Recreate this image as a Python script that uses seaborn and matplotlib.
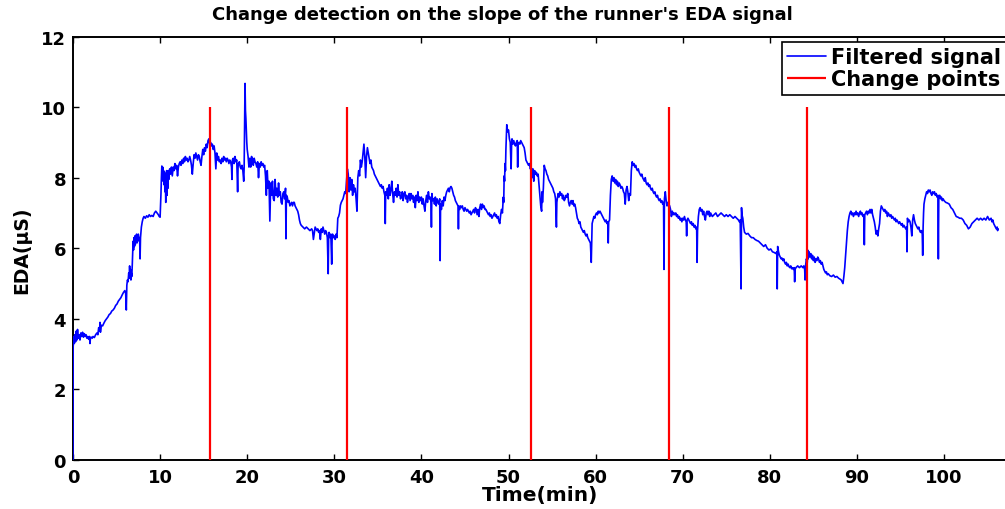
import numpy as np
import pandas as pd
import matplotlib
matplotlib.use("Agg")
import matplotlib.pyplot as plt
import seaborn as sns

# ---- data (time in minutes, EDA in microsiemens) ----
time_min = [
    0.0, 0.02, 0.08, 0.15, 0.22, 0.3, 0.37, 0.45, 0.52, 0.6,
    0.7, 0.8, 0.9, 1.0, 1.1, 1.2, 1.3, 1.4, 1.5, 1.6,
    1.7, 1.8, 1.9, 1.95, 2.0, 2.1, 2.2, 2.3, 2.45, 2.6,
    2.75, 2.85, 2.95, 3.05, 3.1, 3.15, 3.25, 3.4, 3.55, 3.7,
    3.85, 4.0, 4.15, 4.3, 4.45, 4.6, 4.75, 4.9, 5.05, 5.2,
    5.35, 5.5, 5.65, 5.8, 5.95, 6.05, 6.12, 6.18, 6.25, 6.32,
    6.4, 6.45, 6.5, 6.55, 6.6, 6.65, 6.7, 6.75, 6.8, 6.85,
    6.9, 6.95, 7.0, 7.05, 7.1, 7.15, 7.2, 7.3, 7.35, 7.4,
    7.5, 7.6, 7.65, 7.7, 7.75, 7.85, 7.95, 8.05, 8.15, 8.3,
    8.45, 8.6, 8.75, 8.9, 9.05, 9.2, 9.35, 9.5, 9.65, 9.8,
    9.9, 10.0, 10.05, 10.1, 10.15, 10.2, 10.25, 10.3, 10.35, 10.4,
    10.45, 10.5, 10.55, 10.6, 10.65, 10.7, 10.75, 10.8, 10.85, 10.9,
    10.95, 11.0, 11.1, 11.2, 11.3, 11.4, 11.5, 11.6, 11.7, 11.8,
    11.9, 12.0, 12.1, 12.2, 12.3, 12.4, 12.5, 12.6, 12.7, 12.8,
    12.9, 13.0, 13.1, 13.2, 13.3, 13.4, 13.5, 13.6, 13.7, 13.8,
    13.9, 14.0, 14.1, 14.2, 14.3, 14.4, 14.5, 14.6, 14.7, 14.8,
    14.9, 15.0, 15.1, 15.2, 15.3, 15.4, 15.5, 15.6, 15.7, 15.8,
    15.9, 16.0, 16.1, 16.2, 16.3, 16.4, 16.5, 16.6, 16.7, 16.8,
    16.9, 17.0, 17.1, 17.2, 17.3, 17.4, 17.5, 17.6, 17.7, 17.8,
    17.9, 18.0, 18.1, 18.2, 18.25, 18.3, 18.4, 18.5, 18.6, 18.7,
    18.8, 18.9, 18.95, 19.0, 19.1, 19.2, 19.3, 19.4, 19.5, 19.6,
    19.65, 19.7, 19.75, 19.8, 19.85, 19.9, 19.95, 20.0, 20.1, 20.2,
    20.3, 20.4, 20.5, 20.6, 20.7, 20.8, 20.9, 21.0, 21.1, 21.2,
    21.3, 21.4, 21.5, 21.6, 21.7, 21.8, 21.9, 22.0, 22.1, 22.2,
    22.3, 22.4, 22.5, 22.6, 22.7, 22.8, 22.9, 23.0, 23.1, 23.2,
    23.3, 23.4, 23.5, 23.6, 23.7, 23.8, 23.9, 24.0, 24.1, 24.2,
    24.3, 24.4, 24.45, 24.5, 24.6, 24.7, 24.8, 24.9, 25.0, 25.1,
    25.2, 25.3, 25.4, 25.5, 25.6, 25.7, 25.8, 25.9, 26.0, 26.1,
    26.2, 26.4, 26.6, 26.8, 27.0, 27.2, 27.4, 27.5, 27.6, 27.8,
    28.0, 28.1, 28.2, 28.3, 28.4, 28.5, 28.6, 28.7, 28.8, 28.9,
    29.0, 29.1, 29.2, 29.3, 29.35, 29.4, 29.5, 29.6, 29.7, 29.75,
    29.8, 29.9, 30.0, 30.1, 30.2, 30.3, 30.4, 30.5, 30.6, 30.7,
    30.8, 30.9, 31.0, 31.1, 31.2, 31.3, 31.4, 31.5, 31.6, 31.7,
    31.8, 31.9, 32.0, 32.1, 32.2, 32.3, 32.4, 32.5, 32.6, 32.7,
    32.8, 32.9, 33.0, 33.1, 33.2, 33.3, 33.4, 33.5, 33.6, 33.7,
    33.8, 33.9, 34.0, 34.1, 34.2, 34.3, 34.4, 34.5, 34.6, 34.7,
    34.8, 34.9, 35.0, 35.1, 35.2, 35.3, 35.4, 35.5, 35.6, 35.7,
    35.8, 35.85, 35.9, 36.0, 36.1, 36.2, 36.3, 36.4, 36.5, 36.6,
    36.7, 36.8, 36.9, 37.0, 37.1, 37.2, 37.3, 37.4, 37.5, 37.6,
    37.7, 37.8, 37.9, 38.0, 38.1, 38.2, 38.3, 38.4, 38.5, 38.6,
    38.7, 38.8, 38.9, 39.0, 39.1, 39.2, 39.3, 39.4, 39.5, 39.6,
    39.7, 39.8, 39.9, 40.0, 40.1, 40.2, 40.3, 40.4, 40.5, 40.6,
    40.7, 40.8, 40.9, 41.0, 41.1, 41.15, 41.2, 41.3, 41.4, 41.5,
    41.6, 41.7, 41.8, 41.9, 42.0, 42.1, 42.15, 42.2, 42.3, 42.4,
    42.5, 42.6, 42.7, 42.8, 42.9, 43.0, 43.1, 43.2, 43.3, 43.4,
    43.5, 43.6, 43.7, 43.8, 43.9, 44.0, 44.1, 44.2, 44.25, 44.3,
    44.4, 44.5, 44.6, 44.7, 44.8, 44.9, 45.0, 45.1, 45.2, 45.3,
    45.4, 45.5, 45.6, 45.7, 45.8, 45.9, 46.0, 46.1, 46.2, 46.3,
    46.4, 46.5, 46.6, 46.7, 46.8, 46.9, 47.0, 47.1, 47.2, 47.3,
    47.4, 47.5, 47.6, 47.7, 47.8, 47.9, 48.0, 48.1, 48.2, 48.3,
    48.4, 48.5, 48.6, 48.7, 48.8, 48.9, 49.0, 49.1, 49.2, 49.3,
    49.4, 49.45, 49.5, 49.55, 49.6, 49.65, 49.7, 49.75, 49.8, 49.9,
    50.0, 50.1, 50.2, 50.3, 50.35, 50.4, 50.5, 50.6, 50.7, 50.8,
    50.9, 51.0, 51.05, 51.1, 51.2, 51.3, 51.4, 51.5, 51.6, 51.7,
    51.8, 51.9, 52.0, 52.1, 52.2, 52.3, 52.4, 52.5, 52.6, 52.7,
    52.8, 52.9, 53.0, 53.1, 53.2, 53.3, 53.4, 53.5, 53.6, 53.7,
    53.8, 53.85, 53.9, 54.0, 54.1, 54.2, 54.3, 54.4, 54.5, 54.6,
    54.7, 54.8, 54.9, 55.0, 55.1, 55.2, 55.3, 55.4, 55.5, 55.55,
    55.6, 55.7, 55.8, 55.9, 56.0, 56.1, 56.2, 56.3, 56.4, 56.5,
    56.6, 56.7, 56.8, 56.9, 57.0, 57.1, 57.2, 57.3, 57.4, 57.5,
    57.6, 57.7, 57.8, 57.9, 58.0, 58.1, 58.2, 58.3, 58.4, 58.5,
    58.6, 58.7, 58.8, 58.9, 59.0, 59.1, 59.2, 59.3, 59.4, 59.5,
    59.6, 59.7, 59.8, 59.9, 60.0, 60.1, 60.2, 60.3, 60.4, 60.5,
    60.6, 60.7, 60.8, 60.9, 61.0, 61.1, 61.2, 61.3, 61.4, 61.45,
    61.5, 61.6, 61.7, 61.8, 61.9, 62.0, 62.1, 62.2, 62.3, 62.4,
    62.5, 62.6, 62.7, 62.8, 62.9, 63.0, 63.1, 63.2, 63.3, 63.4,
    63.5, 63.6, 63.7, 63.8, 63.9, 64.0, 64.1, 64.2, 64.3, 64.4,
    64.5, 64.6, 64.7, 64.8, 64.9, 65.0, 65.1, 65.2, 65.3, 65.4,
    65.5, 65.6, 65.7, 65.8, 65.9, 66.0, 66.1, 66.2, 66.3, 66.4,
    66.5, 66.6, 66.7, 66.8, 66.9, 67.0, 67.1, 67.2, 67.3, 67.4,
    67.5, 67.6, 67.7, 67.8, 67.85, 67.9, 68.0, 68.1, 68.2, 68.3,
    68.4, 68.5, 68.6, 68.7, 68.8, 68.9, 69.0, 69.1, 69.2, 69.3,
    69.4, 69.5, 69.6, 69.7, 69.8, 69.9, 70.0, 70.1, 70.2, 70.3,
    70.4, 70.45, 70.5, 70.6, 70.7, 70.8, 70.9, 71.0, 71.1, 71.2,
    71.3, 71.4, 71.5, 71.6, 71.65, 71.7, 71.8, 71.9, 72.0, 72.1,
    72.2, 72.3, 72.4, 72.5, 72.6, 72.7, 72.8, 72.9, 73.0, 73.1,
    73.2, 73.4, 73.6, 73.8, 74.0, 74.2, 74.4, 74.6, 74.8, 75.0,
    75.2, 75.4, 75.6, 75.8, 76.0, 76.2, 76.4, 76.5, 76.6, 76.7,
    76.75, 76.8, 76.9, 77.0, 77.1, 77.3, 77.5, 77.7, 77.9, 78.1,
    78.3, 78.5, 78.7, 78.9, 79.1, 79.3, 79.5, 79.7, 79.9, 80.1,
    80.3, 80.5, 80.7, 80.8, 80.85, 80.9, 81.0, 81.1, 81.2, 81.3,
    81.4, 81.5, 81.6, 81.7, 81.8, 81.9, 82.0, 82.1, 82.2, 82.3,
    82.4, 82.5, 82.6, 82.7, 82.8, 82.85, 82.9, 83.0, 83.2, 83.4,
    83.6, 83.8, 83.9, 84.0, 84.05, 84.1, 84.2, 84.3, 84.35, 84.4,
    84.5, 84.6, 84.7, 84.8, 84.9, 85.0, 85.1, 85.2, 85.3, 85.4,
    85.5, 85.6, 85.7, 85.8, 85.9, 86.0, 86.1, 86.2, 86.3, 86.4,
    86.5, 86.6, 86.7, 86.9, 87.1, 87.3, 87.5, 87.7, 87.9, 88.1,
    88.2, 88.3, 88.4, 88.5, 88.6, 88.7, 88.8, 88.9, 89.0, 89.1,
    89.2, 89.3, 89.4, 89.5, 89.6, 89.7, 89.8, 89.9, 90.0, 90.1,
    90.2, 90.3, 90.4, 90.5, 90.6, 90.7, 90.8, 90.85, 90.9, 91.0,
    91.1, 91.2, 91.3, 91.4, 91.5, 91.6, 91.7, 91.8, 91.9, 92.0,
    92.1, 92.2, 92.3, 92.4, 92.5, 92.6, 92.7, 92.8, 92.9, 93.0,
    93.1, 93.2, 93.3, 93.4, 93.5, 93.6, 93.7, 93.8, 93.9, 94.0,
    94.1, 94.2, 94.3, 94.4, 94.5, 94.6, 94.7, 94.8, 94.9, 95.0,
    95.1, 95.2, 95.3, 95.4, 95.5, 95.6, 95.7, 95.75, 95.8, 95.9,
    96.0, 96.1, 96.2, 96.3, 96.4, 96.5, 96.6, 96.7, 96.8, 96.9,
    97.0, 97.1, 97.2, 97.3, 97.4, 97.5, 97.55, 97.6, 97.65, 97.7,
    97.8, 97.9, 98.0, 98.1, 98.2, 98.3, 98.4, 98.5, 98.6, 98.7,
    98.8, 98.9, 99.0, 99.1, 99.2, 99.3, 99.35, 99.4, 99.5, 99.6,
    99.7, 99.8, 99.9, 100.0, 100.2, 100.4, 100.6, 100.8, 101.0, 101.2,
    101.4, 101.6, 101.8, 102.0, 102.2, 102.4, 102.6, 102.8, 103.0, 103.2,
    103.4, 103.6, 103.8, 104.0, 104.2, 104.4, 104.6, 104.8, 105.0, 105.2,
    105.4, 105.5, 105.6, 105.7, 105.8, 105.9, 106.0, 106.1, 106.15, 106.2,
]
eda_us = [
    0.0, 3.2, 3.5, 3.3, 3.55, 3.35, 3.65, 3.4, 3.7, 3.45,
    3.55, 3.4, 3.6, 3.5, 3.62, 3.48, 3.58, 3.5, 3.55, 3.45,
    3.5, 3.42, 3.5, 3.3, 3.45, 3.48, 3.45, 3.5, 3.47, 3.55,
    3.6, 3.55, 3.75, 3.65, 3.9, 3.62, 3.82, 3.8, 3.88, 3.95,
    4.0, 4.05, 4.12, 4.15, 4.22, 4.25, 4.3, 4.38, 4.42, 4.5,
    4.55, 4.6, 4.68, 4.75, 4.8, 4.72, 4.25, 4.95, 5.1, 5.05,
    5.3, 5.15, 5.5, 5.2, 5.4, 5.1, 5.3, 5.2, 5.5, 5.9,
    6.2, 5.95, 6.3, 6.05, 6.35, 6.1, 6.3, 6.4, 6.15, 6.35,
    6.4, 6.2, 6.3, 5.7, 6.3, 6.6, 6.75, 6.85, 6.9, 6.85,
    6.92, 6.88, 6.95, 6.9, 6.93, 6.9, 7.0, 7.05, 7.0, 6.95,
    6.9, 6.88, 7.2, 7.55, 8.0, 8.33, 8.0, 8.3, 7.9, 8.2,
    7.8, 8.15, 7.6, 8.0, 7.3, 7.9, 8.2, 7.5, 8.1, 7.7,
    8.2, 7.95, 8.25, 8.1, 8.3, 8.05, 8.3, 8.2, 8.4, 8.25,
    8.35, 8.05, 8.3, 8.4, 8.45, 8.35, 8.5, 8.4, 8.55, 8.45,
    8.6, 8.5, 8.55, 8.45, 8.5, 8.6, 8.5, 8.35, 8.1, 8.4,
    8.65, 8.55, 8.7, 8.6, 8.5, 8.65, 8.6, 8.45, 8.35, 8.6,
    8.8, 8.65, 8.85, 8.75, 8.95, 8.85, 9.05, 9.1, 8.95, 9.0,
    8.9, 8.95, 8.8, 8.9, 8.7, 8.25, 8.7, 8.5, 8.6, 8.45,
    8.5, 8.4, 8.55, 8.45, 8.6, 8.5, 8.55, 8.45, 8.55, 8.5,
    8.4, 8.5, 8.45, 8.3, 7.95, 8.5, 8.55, 8.4, 8.6, 8.45,
    8.5, 7.6, 8.3, 8.4, 8.45, 8.3, 8.25, 8.35, 8.2, 7.9,
    8.3, 9.5, 10.67, 9.9, 9.67, 9.3, 9.0, 8.8, 8.6, 8.3,
    8.55, 8.3, 8.6, 8.5, 8.35, 8.55, 8.45, 8.4, 8.3, 8.45,
    8.0, 8.4, 8.3, 8.45, 8.35, 8.4, 8.3, 8.35, 8.05, 7.5,
    8.2, 7.7, 7.9, 6.77, 7.85, 7.5, 7.9, 7.4, 7.35, 7.95,
    7.5, 7.7, 7.45, 7.85, 7.5, 7.6, 7.3, 7.25, 7.55, 7.6,
    7.4, 7.7, 6.27, 7.5, 7.45, 7.3, 7.35, 7.2, 7.25, 7.3,
    7.2, 7.3, 7.3, 7.2, 7.15, 7.1, 7.05, 6.95, 6.8, 6.7,
    6.65, 6.6, 6.55, 6.6, 6.55, 6.5, 6.55, 6.5, 6.25, 6.6,
    6.5, 6.55, 6.45, 6.5, 6.25, 6.55, 6.45, 6.6, 6.5, 6.4,
    6.5, 6.45, 6.3, 5.28, 6.35, 6.45, 6.3, 6.4, 5.55, 6.3,
    6.4, 6.3, 6.35, 6.25, 6.4, 6.3, 6.85, 6.9, 7.0, 7.22,
    7.3, 7.35, 7.4, 7.5, 7.6, 7.55, 7.9, 8.25, 8.1, 7.6,
    8.0, 7.65, 7.95, 7.5, 7.8, 7.6, 7.7, 7.4, 7.05, 8.0,
    8.2, 8.05, 8.5, 8.3, 8.45, 8.7, 8.95, 8.6, 8.0, 8.6,
    8.85, 8.7, 8.55, 8.4, 8.5, 8.3, 8.25, 8.2, 8.1, 8.05,
    8.0, 7.95, 7.9, 7.85, 7.8, 7.75, 7.8, 7.7, 7.75, 7.6,
    7.5, 6.7, 7.6, 7.5, 7.7, 7.4, 7.8, 7.5, 7.65, 7.9,
    7.55, 7.3, 7.6, 7.5, 7.7, 7.45, 7.8, 7.5, 7.6, 7.4,
    7.45, 7.6, 7.35, 7.55, 7.6, 7.4, 7.5, 7.3, 7.45, 7.55,
    7.35, 7.55, 7.4, 7.5, 7.3, 7.45, 7.15, 7.5, 7.35, 7.6,
    7.3, 7.45, 7.35, 7.45, 7.25, 7.4, 7.2, 7.05, 7.35, 7.5,
    7.3, 7.6, 7.4, 7.45, 7.3, 6.6, 7.55, 7.35, 7.4, 7.25,
    7.45, 7.2, 7.4, 7.3, 7.25, 7.4, 5.65, 7.25, 7.1, 7.35,
    7.2, 7.45, 7.35, 7.5, 7.6, 7.65, 7.7, 7.6, 7.72, 7.75,
    7.7, 7.6, 7.5, 7.45, 7.35, 7.3, 7.25, 7.2, 6.55, 7.2,
    7.1, 7.2, 7.15, 7.2, 7.1, 7.05, 7.15, 7.1, 7.05, 7.1,
    7.05, 7.0, 7.05, 6.95, 7.0, 7.05, 7.1, 7.0, 7.15, 7.1,
    6.95, 7.1, 6.9, 7.15, 7.25, 7.1, 7.25, 7.15, 7.2, 7.1,
    7.1, 7.05, 7.0, 6.95, 7.0, 6.9, 6.95, 6.85, 6.9, 6.95,
    7.0, 6.9, 6.95, 6.85, 6.9, 6.75, 6.7, 6.95, 7.1, 7.0,
    7.45, 7.3, 8.05, 7.9, 8.4, 8.2, 8.8, 9.2, 9.5, 9.3,
    9.35, 9.1, 9.0, 8.25, 8.9, 9.1, 8.95, 9.05, 8.95, 8.9,
    9.0, 9.05, 8.3, 8.95, 9.0, 8.95, 9.05, 9.0, 8.95, 8.9,
    8.85, 8.7, 8.5, 8.45, 8.4, 8.35, 8.4, 8.25, 8.3, 8.0,
    8.25, 7.9, 8.2, 8.1, 8.15, 8.05, 8.1, 7.8, 7.5, 7.2,
    7.05, 7.6, 7.3, 7.7, 8.35, 8.25, 8.2, 8.1, 8.05, 7.95,
    7.9, 7.85, 7.8, 7.75, 7.7, 7.6, 7.55, 7.4, 6.6, 7.3,
    7.4, 7.55, 7.45, 7.6, 7.5, 7.55, 7.4, 7.5, 7.35, 7.4,
    7.5, 7.45, 7.55, 7.3, 7.2, 7.3, 7.35, 7.25, 7.35, 7.2,
    7.25, 7.15, 7.0, 6.85, 6.8, 6.7, 6.75, 6.6, 6.55, 6.5,
    6.45, 6.5, 6.4, 6.35, 6.4, 6.3, 6.25, 6.2, 6.15, 5.6,
    6.7, 6.8, 6.9, 6.85, 6.95, 7.0, 6.95, 7.05, 7.0, 7.05,
    7.0, 6.95, 6.9, 6.85, 6.8, 6.75, 6.8, 6.7, 6.75, 6.15,
    6.75, 6.8, 7.5, 7.95, 8.05, 7.9, 8.0, 7.85, 7.95, 7.8,
    7.9, 7.75, 7.85, 7.8, 7.7, 7.75, 7.7, 7.6, 7.55, 7.25,
    7.65, 7.75, 7.6, 7.35, 7.55, 7.5, 8.2, 8.45, 8.35, 8.4,
    8.3, 8.35, 8.25, 8.2, 8.25, 8.15, 8.1, 8.05, 8.1, 8.0,
    7.95, 7.9, 8.0, 7.85, 7.8, 7.85, 7.75, 7.8, 7.7, 7.65,
    7.7, 7.6, 7.55, 7.6, 7.5, 7.45, 7.5, 7.4, 7.35, 7.4,
    7.3, 7.35, 7.25, 7.3, 5.4, 7.4, 7.6, 7.35, 7.2, 7.3,
    7.25, 7.2, 7.1, 6.9, 7.05, 6.95, 7.0, 6.95, 7.0, 6.9,
    6.95, 6.85, 6.9, 6.8, 6.85, 6.75, 6.85, 6.8, 6.9, 6.8,
    6.75, 6.35, 6.8, 6.85, 6.8, 6.75, 6.7, 6.75, 6.65, 6.7,
    6.6, 6.65, 6.55, 6.6, 5.6, 6.5, 6.9, 7.1, 7.15, 7.05,
    7.1, 6.95, 7.05, 6.9, 6.8, 7.0, 7.05, 6.95, 7.05, 6.9,
    7.0, 6.9, 6.95, 7.0, 6.9, 6.95, 7.0, 6.95, 6.9, 6.95,
    6.9, 6.95, 6.9, 6.85, 6.9, 6.85, 6.8, 6.75, 6.8, 4.85,
    7.15, 6.95, 6.85, 6.6, 6.45, 6.4, 6.42, 6.35, 6.3, 6.3,
    6.25, 6.22, 6.2, 6.15, 6.1, 6.05, 6.1, 6.0, 5.95, 5.98,
    5.9, 5.88, 5.85, 5.9, 4.85, 6.05, 5.9, 5.8, 5.75, 5.7,
    5.72, 5.65, 5.7, 5.6, 5.55, 5.6, 5.5, 5.55, 5.48, 5.45,
    5.5, 5.42, 5.45, 5.4, 5.45, 5.05, 5.4, 5.45, 5.5, 5.45,
    5.5, 5.45, 5.5, 5.4, 5.1, 5.5, 5.7, 5.6, 5.95, 5.7,
    5.9, 5.75, 5.85, 5.7, 5.8, 5.65, 5.75, 5.6, 5.7, 5.65,
    5.75, 5.7, 5.6, 5.65, 5.55, 5.6, 5.5, 5.4, 5.35, 5.3,
    5.33, 5.25, 5.28, 5.22, 5.2, 5.24, 5.18, 5.2, 5.15, 5.12,
    5.1, 5.05, 5.0, 5.2, 5.45, 5.8, 6.15, 6.5, 6.75, 6.9,
    7.0, 7.05, 6.95, 7.0, 6.9, 7.0, 6.95, 7.05, 6.95, 7.0,
    6.9, 7.0, 7.05, 6.95, 7.0, 6.9, 6.95, 6.1, 6.95, 7.0,
    7.05, 6.95, 7.05, 7.0, 7.1, 7.0, 7.1, 6.95, 6.85, 6.75,
    6.6, 6.4, 6.5, 6.35, 6.55, 6.7, 7.05, 7.2, 7.15, 7.1,
    7.05, 7.1, 7.0, 7.05, 6.9, 7.0, 6.95, 6.9, 6.95, 6.85,
    6.9, 6.85, 6.8, 6.85, 6.75, 6.8, 6.75, 6.7, 6.75, 6.7,
    6.65, 6.7, 6.6, 6.65, 6.6, 6.55, 6.6, 5.9, 6.85, 6.75,
    6.8, 6.75, 6.6, 6.35, 6.8, 6.95, 6.8, 6.7, 6.65, 6.6,
    6.55, 6.6, 6.5, 6.45, 6.5, 6.4, 5.8, 6.6, 7.0, 7.25,
    7.4, 7.5, 7.6, 7.55, 7.65, 7.6, 7.65, 7.55, 7.5, 7.6,
    7.55, 7.6, 7.5, 7.55, 7.45, 7.5, 5.7, 7.45, 7.5, 7.4,
    7.45, 7.35, 7.4, 7.35, 7.3, 7.28, 7.25, 7.15, 7.1, 7.0,
    6.9, 6.88, 6.85, 6.85, 6.8, 6.7, 6.65, 6.55, 6.6, 6.7,
    6.75, 6.8, 6.85, 6.8, 6.85, 6.8, 6.85, 6.8, 6.9, 6.8,
    6.85, 6.75, 6.8, 6.7, 6.65, 6.6, 6.55, 6.6, 6.5, 6.55,
]
change_points = [15.7, 31.5, 52.6, 68.4, 84.3]
change_height = 10.0
x_ticks = [0, 10, 20, 30, 40, 50, 60, 70, 80, 90, 100]
y_ticks = [0, 2, 4, 6, 8, 10, 12]

n = min(len(time_min), len(eda_us))
df = pd.DataFrame({"Time(min)": time_min[:n], "EDA": eda_us[:n]})

sns.set_theme(style="white")
plt.rcParams["font.family"] = ["DejaVu Sans"]
plt.rcParams["font.weight"] = "bold"
plt.rcParams["text.color"] = "black"
plt.rcParams["axes.labelcolor"] = "black"
plt.rcParams["xtick.color"] = "black"
plt.rcParams["ytick.color"] = "black"

fig = plt.figure(figsize=(10.05, 5.10), dpi=100)
ax = fig.add_axes([73 / 1005, 49 / 510, 1 - 73 / 1005, 423.5 / 510])

sns.lineplot(data=df, x="Time(min)", y="EDA", ax=ax, color="#0000ff", linewidth=1.2,
             sort=False, estimator=None, label="Filtered signal", zorder=3)
ax.vlines(change_points, 0, change_height, colors="#ff0000", linewidth=1.6,
          label="Change points", zorder=4)

ax.set_xlim(0, 107)
ax.set_ylim(0, 12)
ax.set_xticks(x_ticks)
ax.set_yticks(y_ticks)
ax.tick_params(axis="x", direction="in", length=4, width=1, top=True, bottom=True,
               labelsize=13, pad=6, colors="black")
ax.tick_params(axis="y", direction="in", length=4, width=1, left=True, right=False,
               labelsize=13, pad=5, colors="black")
for lab in ax.get_xticklabels() + ax.get_yticklabels():
    lab.set_fontweight("bold")
for side in ["left", "bottom", "top"]:
    ax.spines[side].set_visible(True)
    ax.spines[side].set_color("black")
    ax.spines[side].set_linewidth(1.4)
ax.spines["right"].set_visible(False)
ax.grid(False)

ax.set_xlabel("")
ax.set_ylabel("")
fig.text(540 / 1005, 1 - 496 / 510, "Time(min)", ha="center", va="center",
         fontsize=14.5, fontweight="bold", color="black")
fig.text(22 / 1005, 1 - 250 / 510, "EDA(\u03bcS)", ha="center", va="center",
         rotation=90, fontsize=13.5, fontweight="bold", color="black")
fig.text(502 / 1005, 1 - 15 / 510, "Change detection on the slope of the runner's EDA signal",
         ha="center", va="center", fontsize=13, fontweight="bold", color="black")

leg = ax.legend(loc="upper left", bbox_to_anchor=(782 / 1005, 1 - 43 / 510),
                bbox_transform=fig.transFigure, borderaxespad=0, fancybox=False,
                frameon=True, edgecolor="black", framealpha=1,
                prop={"size": 15, "weight": "bold"}, handlelength=1.85,
                handletextpad=0.25, labelspacing=0.1, borderpad=0.25)
leg.get_frame().set_linewidth(1.2)
for txt in leg.get_texts():
    txt.set_color("black")

fig.savefig("out.png", dpi=100)
